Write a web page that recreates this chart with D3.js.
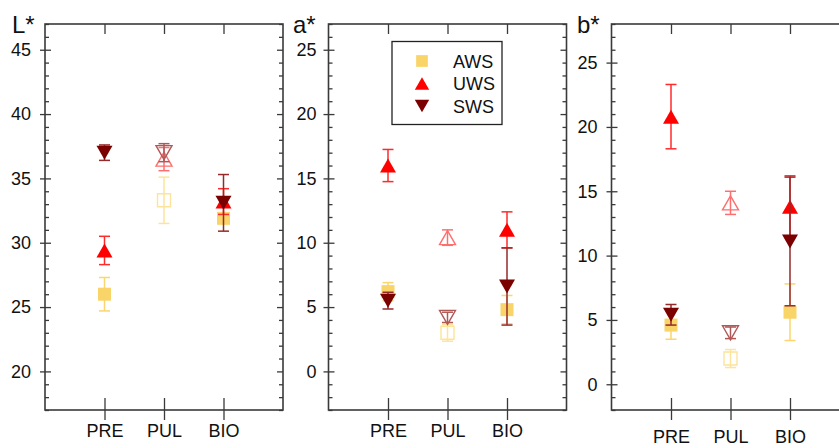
<!DOCTYPE html>
<html><head><meta charset="utf-8">
<script src="https://cdn.jsdelivr.net/npm/d3@7"></script>
<style>body{margin:0;background:#fff;} svg{display:block;}</style>
</head><body>
<svg id="chart" width="839" height="448"></svg>
<script>
const categories = ["PRE", "PUL", "BIO"];
const seriesNames = ["AWS", "UWS", "SWS"];

// L*
const lAWS = [26.0, 33.3, 31.9], lAWSErr = [1.3, 1.8, 0.4];
const lUWS = [29.4, 36.5, 33.2], lUWSErr = [1.1, 0.9, 1.0];
const lSWS = [37.0, 37.0, 33.1], lSWSErr = [0.6, 0.7, 2.2];
// a*
const aAWS = [6.2, 3.0, 4.8], aAWSErr = [0.7, 0.65, 1.1];
const aUWS = [16.0, 10.4, 11.0], aUWSErr = [1.25, 0.6, 1.4];
const aSWS = [5.5, 4.2, 6.6], aSWSErr = [0.65, 0.4, 3.0];
// b*
const bAWS = [4.6, 2.0, 5.6], bAWSErr = [1.1, 0.7, 2.2];
const bUWS = [20.8, 14.1, 13.8], bUWSErr = [2.5, 0.9, 2.4];
const bSWS = [5.4, 4.0, 11.1], bSWSErr = [0.8, 0.45, 5.0];

const lTicks = [20, 25, 30, 35, 40, 45];
const aTicks = [0, 5, 10, 15, 20, 25];
const bTicks = [0, 5, 10, 15, 20, 25];

const FONT = "Liberation Sans, Arial, Helvetica, sans-serif";
const fill = {AWS: "#f9d468", UWS: "#ff0000", SWS: "#7b0000"};
const errCol = {AWS: "#fbd66e", UWS: "#ff2a2a", SWS: "#962a2a"};
const openCol = {AWS: "#fde49a", UWS: "#ff6e6e", SWS: "#b05858"};

const panels = [
  {label: "L*", left: 45, labelX: 12, domain: [17, 47], ticks: lTicks, gap: 14, catY: 437,
   data: {AWS: [lAWS, lAWSErr], UWS: [lUWS, lUWSErr], SWS: [lSWS, lSWSErr]}},
  {label: "a*", left: 328.5, labelX: 293, domain: [-3, 27], ticks: aTicks, gap: 12, catY: 437,
   data: {AWS: [aAWS, aAWSErr], UWS: [aUWS, aUWSErr], SWS: [aSWS, aSWSErr]}},
  {label: "b*", left: 611.5, labelX: 577, domain: [-2, 28], ticks: bTicks, gap: 14, catY: 443,
   data: {AWS: [bAWS, bAWSErr], UWS: [bUWS, bUWSErr], SWS: [bSWS, bSWSErr]}}
];

const svg = d3.select("#chart");
const TOP = 24, BOTTOM = 410, W = 238;
const AX = "#3a3a3a";

function symbolPath(name, k) {
  k = k || 1;
  if (name === "AWS") { const s = 6.5 * k; return `M${-s},${-s}H${s}V${s}H${-s}Z`; }
  if (name === "UWS") return `M0,${-7*k}L${8*k},${7*k}L${-8*k},${7*k}Z`;
  return `M0,${7*k}L${8*k},${-7*k}L${-8*k},${-7*k}Z`;
}

panels.forEach(p => {
  const x = d3.scaleLinear().domain([0, 4]).range([p.left, p.left + W]);
  const y = d3.scaleLinear().domain(p.domain).range([BOTTOM, TOP]);
  const g = svg.append("g");
  const minor = d3.range(Math.ceil(p.domain[0]), p.domain[1] + 1).filter(v => v % 5 !== 0);

  const left = g.append("g").attr("transform", `translate(${p.left},0)`)
    .call(d3.axisLeft(y).tickValues(minor).tickSize(-4).tickFormat(""));
  left.select(".domain").remove();
  const leftMaj = g.append("g").attr("transform", `translate(${p.left},0)`)
    .call(d3.axisLeft(y).tickValues(p.ticks).tickSize(5).tickPadding(p.gap - 5).tickFormat(d3.format("d")));
  leftMaj.select(".domain").remove();
  leftMaj.selectAll(".tick line").attr("x2", -5).attr("x1", 6);
  leftMaj.selectAll("text").attr("font-family", FONT).attr("font-size", 18).attr("fill", "#111");

  const right = g.append("g").attr("transform", `translate(${p.left + W},0)`)
    .call(d3.axisRight(y).tickValues(minor).tickSize(-4).tickFormat(""));
  right.select(".domain").remove();
  const rightMaj = g.append("g").attr("transform", `translate(${p.left + W},0)`)
    .call(d3.axisRight(y).tickValues(p.ticks).tickSize(-6).tickFormat(""));
  rightMaj.select(".domain").remove();

  const top = g.append("g").attr("transform", `translate(0,${TOP})`)
    .call(d3.axisTop(x).tickValues([1, 2, 3]).tickSize(-10).tickFormat(""));
  top.select(".domain").remove();
  const bot = g.append("g").attr("transform", `translate(0,${BOTTOM})`)
    .call(d3.axisBottom(x).tickValues([1, 2, 3]).tickSize(10).tickFormat((d) => categories[d - 1]));
  bot.select(".domain").remove();
  bot.selectAll(".tick line").attr("y1", -12);
  bot.selectAll("text").attr("font-family", FONT).attr("font-size", 18).attr("fill", "#111")
    .attr("dy", null).attr("y", p.catY - BOTTOM);

  g.selectAll(".tick line").attr("stroke", AX).attr("stroke-width", 1.3);

  g.append("rect").attr("x", p.left).attr("y", TOP).attr("width", W).attr("height", BOTTOM - TOP)
    .attr("fill", "none").attr("stroke", AX).attr("stroke-width", 1.6);

  g.append("text").attr("x", p.labelX).attr("y", 33).attr("font-family", FONT)
    .attr("font-size", 24).attr("fill", "#111").text(p.label);

  seriesNames.forEach(s => {
    const [means, errs] = p.data[s];
    means.forEach((m, i) => {
      const cx = x(i + 1);
      const open = i === 1;
      const ec = open ? openCol[s] : errCol[s];
      const e = errs[i];
      const eg = g.append("g").attr("stroke", ec).attr("stroke-width", 1.5).attr("fill", "none");
      eg.append("line").attr("x1", cx).attr("x2", cx).attr("y1", y(m - e)).attr("y2", y(m + e));
      [m - e, m + e].forEach(v => eg.append("line").attr("x1", cx - 5.5).attr("x2", cx + 5.5)
        .attr("y1", y(v)).attr("y2", y(v)));
      const mk = g.append("path").attr("d", symbolPath(s)).attr("transform", `translate(${cx},${y(m)})`);
      if (open) mk.attr("fill", "none").attr("stroke", openCol[s]).attr("stroke-width", 1.4);
      else mk.attr("fill", fill[s]).attr("stroke", "none");
    });
  });
});

// legend
const lg = svg.append("g");
lg.append("rect").attr("x", 392).attr("y", 41.5).attr("width", 110).attr("height", 83)
  .attr("fill", "#fff").attr("stroke", "#222").attr("stroke-width", 1.3);
seriesNames.forEach((s, i) => {
  const yy = 61 + i * 22.5;
  lg.append("path").attr("d", symbolPath(s, 0.9)).attr("transform", `translate(422,${yy})`).attr("fill", fill[s]);
  lg.append("text").attr("x", 453).attr("y", yy + 6.5).attr("font-family", FONT).attr("font-size", 18)
    .attr("fill", "#111").text(s);
});
</script>
</body></html>
